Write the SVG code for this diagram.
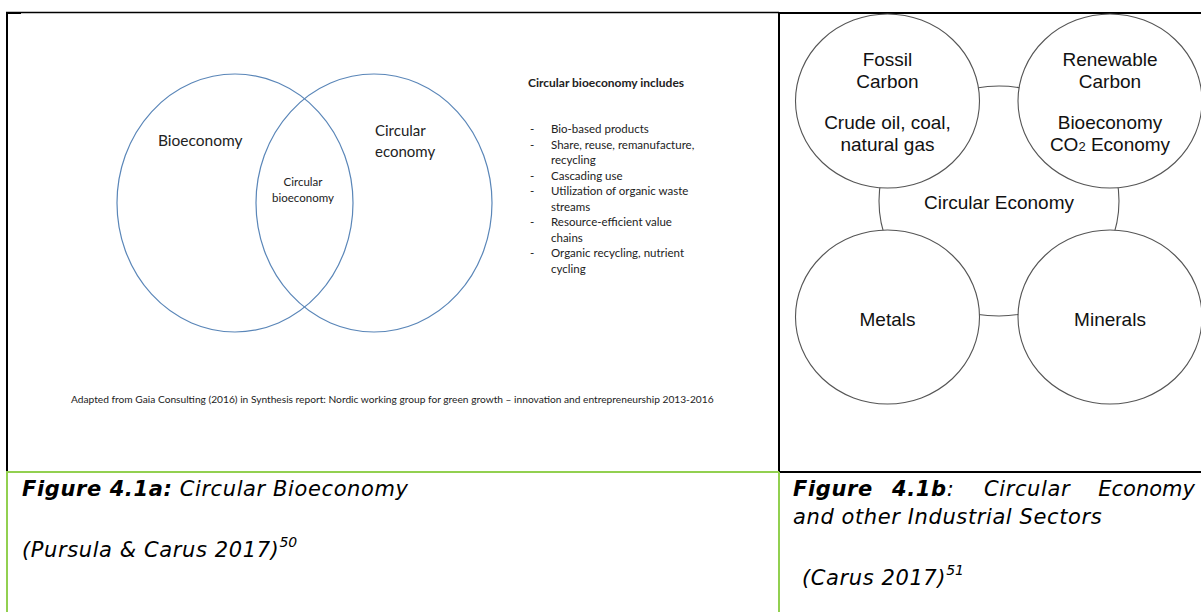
<svg xmlns="http://www.w3.org/2000/svg" width="1201" height="612" viewBox="0 0 1201 612">
<style>
.venn{fill:none;stroke:#5a86b8;stroke-width:1.2}
.cal{font-family:Lato,"Open Sans","Liberation Sans",sans-serif;fill:#222}
.hel{font-family:"Liberation Sans",Arial,sans-serif;fill:#111;font-size:19px;text-anchor:middle}
.node{fill:#fff;stroke:#555;stroke-width:1.1}
.cap{font-family:"DejaVu Sans",Verdana,sans-serif;font-style:italic;fill:#000;font-size:21px;letter-spacing:0.6px}
.b{font-weight:bold}
.sup{font-size:14px;letter-spacing:0}
.blk{stroke:#000;fill:none}
.grn{stroke:#92d050;fill:none;stroke-width:2}
</style>
<rect width="1201" height="612" fill="#fff"/>
<g id="frame">
<line class="blk" x1="6" y1="12.5" x2="779" y2="12.5" stroke-width="1.3"/>
<line class="blk" x1="6" y1="13" x2="21" y2="13" stroke-width="2"/>
<line class="blk" x1="779" y1="13" x2="1201" y2="13" stroke-width="2"/>
<line class="blk" x1="7" y1="12" x2="7" y2="472" stroke-width="2"/>
<line class="blk" x1="779" y1="12" x2="779" y2="472" stroke-width="2"/>
<line class="blk" x1="779" y1="472" x2="1201" y2="472" stroke-width="2"/>
<line class="grn" x1="6" y1="472" x2="779" y2="472"/>
<line class="grn" x1="7" y1="472" x2="7" y2="612"/>
<line class="grn" x1="779" y1="472" x2="779" y2="612"/>
</g>
<g id="venn-bioeconomy">
<ellipse class="venn" cx="235" cy="203" rx="118" ry="129"/>
<text class="cal" x="158" y="146" font-size="15.5">Bioeconomy</text>
</g>
<g id="venn-circular-economy">
<ellipse class="venn" cx="374" cy="203" rx="118" ry="129"/>
<text class="cal" x="375" y="136" font-size="15">Circular</text>
<text class="cal" x="375" y="157" font-size="15">economy</text>
</g>
<g id="venn-circular-bioeconomy">
<text class="cal" x="303" y="186" font-size="11.5" text-anchor="middle">Circular</text>
<text class="cal" x="303" y="202" font-size="11.5" text-anchor="middle">bioeconomy</text>
</g>
<g id="includes-list" class="cal" font-size="11.5">
<text x="528" y="87" font-weight="bold" font-size="12">Circular bioeconomy includes</text>
<text x="530" y="133">-</text><text x="551" y="133">Bio-based products</text>
<text x="530" y="148.5">-</text><text x="551" y="148.5">Share, reuse, remanufacture,</text>
<text x="551" y="164">recycling</text>
<text x="530" y="179.5">-</text><text x="551" y="179.5">Cascading use</text>
<text x="530" y="195">-</text><text x="551" y="195">Utilization of organic waste</text>
<text x="551" y="210.5">streams</text>
<text x="530" y="226">-</text><text x="551" y="226">Resource-efficient value</text>
<text x="551" y="241.5">chains</text>
<text x="530" y="257">-</text><text x="551" y="257">Organic recycling, nutrient</text>
<text x="551" y="272.5">cycling</text>
</g>
<g id="source-note">
<text class="cal" x="71" y="403" font-size="10.2">Adapted from Gaia Consulting (2016) in Synthesis report: Nordic working group for green growth – innovation and entrepreneurship 2013-2016</text>
</g>
<g id="circular-economy">
<ellipse class="node" cx="999" cy="201" rx="120" ry="115"/>
<text class="hel" x="999" y="209">Circular Economy</text>
</g>
<g id="fossil-carbon">
<ellipse class="node" cx="887.5" cy="101" rx="92" ry="87"/>
<text class="hel" x="887.5" y="66">Fossil</text>
<text class="hel" x="887.5" y="88">Carbon</text>
<text class="hel" x="887.5" y="129">Crude oil, coal,</text>
<text class="hel" x="887.5" y="151">natural gas</text>
</g>
<g id="renewable-carbon">
<ellipse class="node" cx="1110" cy="101" rx="92" ry="87"/>
<text class="hel" x="1110" y="66">Renewable</text>
<text class="hel" x="1110" y="88">Carbon</text>
<text class="hel" x="1110" y="129">Bioeconomy</text>
<text class="hel" x="1110" y="151">CO<tspan font-size="13">2</tspan> Economy</text>
</g>
<g id="metals">
<ellipse class="node" cx="887.5" cy="317" rx="92" ry="87"/>
<text class="hel" x="887.5" y="326">Metals</text>
</g>
<g id="minerals">
<ellipse class="node" cx="1110" cy="317" rx="92" ry="87"/>
<text class="hel" x="1110" y="326">Minerals</text>
</g>
<g id="caption-a" class="cap">
<text x="22" y="496"><tspan class="b">Figure 4.1a:</tspan> Circular Bioeconomy</text>
<text x="22" y="557">(Pursula &amp; Carus 2017)<tspan class="sup" dy="-10">50</tspan></text>
</g>
<g id="caption-b" class="cap">
<text x="793" y="496" class="b">Figure</text>
<text x="892" y="496"><tspan class="b">4.1b</tspan>:</text>
<text x="984" y="496">Circular</text>
<text x="1195" y="496" text-anchor="end" letter-spacing="0">Economy</text>
<text x="793" y="524">and other Industrial Sectors</text>
<text x="802" y="585">(Carus 2017)<tspan class="sup" dy="-10">51</tspan></text>
</g>
<g id="connectors"/>
</svg>
